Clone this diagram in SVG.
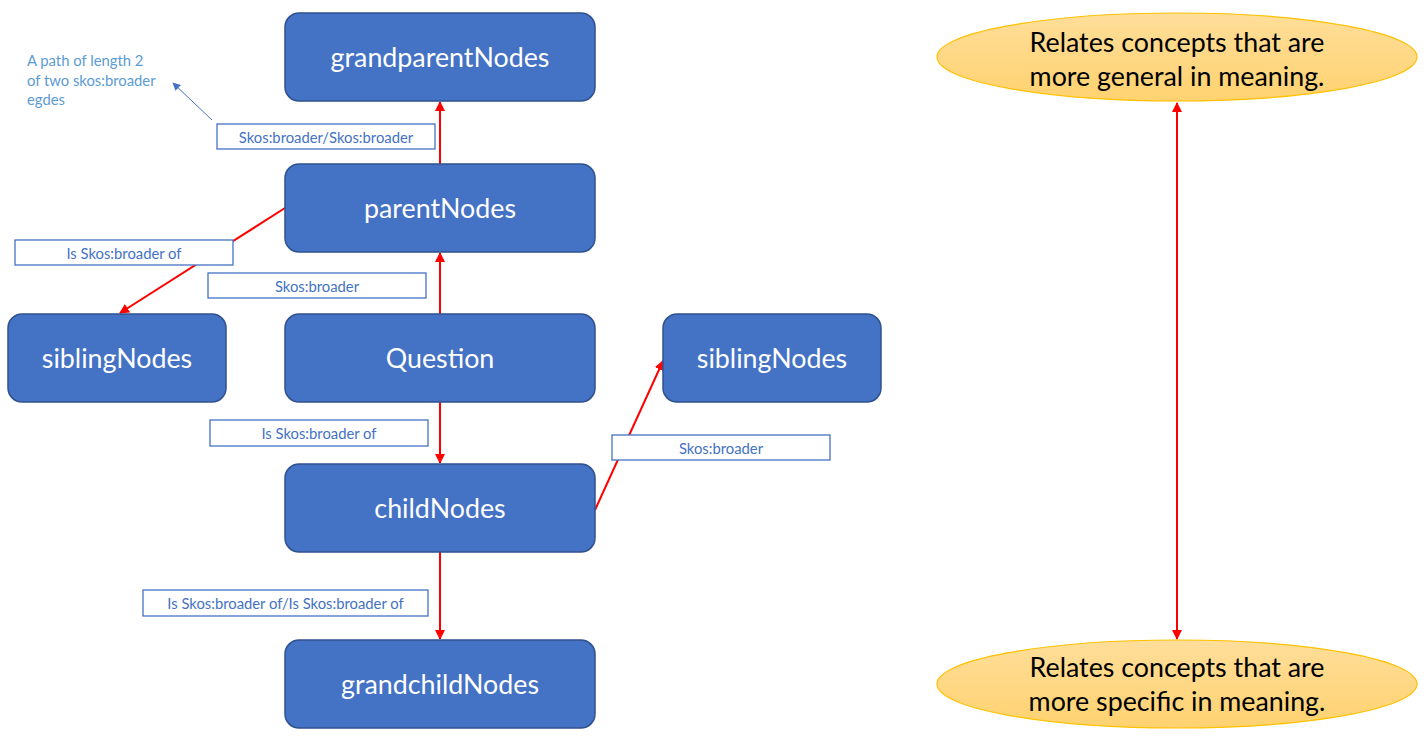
<svg xmlns="http://www.w3.org/2000/svg" width="1426" height="736" viewBox="0 0 1426 736">
<style>
.node rect{fill:#4472C4;stroke:#2F528F;stroke-width:1.5}
.node text{fill:#fff;font-family:Lato,"Open Sans",sans-serif;font-size:26.8px;text-anchor:middle;dominant-baseline:central}
.lbl rect{fill:#fff;stroke:#4472C4;stroke-width:1.3}
.lbl text{fill:#4472C4;font-family:Lato,"Open Sans",sans-serif;font-size:14.8px;text-anchor:middle;dominant-baseline:central}
.edge{stroke:#FF0000;stroke-width:2;fill:none}
.ell ellipse{fill:url(#og);stroke:#FFC000;stroke-width:1.2}
.ell text{fill:#000;font-family:Lato,"Open Sans",sans-serif;font-size:26.8px;text-anchor:middle;dominant-baseline:central}
.note{fill:#5B9BD5;font-family:Lato,"Open Sans",sans-serif;font-size:14.8px}
</style>
<defs>
<linearGradient id="og" x1="0" y1="0" x2="0" y2="1">
<stop offset="0" stop-color="#FFDE9A"/>
<stop offset="1" stop-color="#FFD270"/>
</linearGradient>
<marker id="ar" viewBox="0 0 10 10" refX="9" refY="5" markerWidth="5" markerHeight="5" orient="auto-start-reverse" markerUnits="strokeWidth">
<path d="M0,0 L10,5 L0,10 z" fill="#FF0000"/>
</marker>
<marker id="ab" viewBox="0 0 10 10" refX="9" refY="5" markerWidth="8" markerHeight="8" orient="auto" markerUnits="strokeWidth">
<path d="M0,0 L10,5 L0,10 z" fill="#4472C4"/>
</marker>
</defs>
<g id="connectors">
<line class="edge" x1="440" y1="164" x2="440" y2="102" marker-end="url(#ar)"/>
<line class="edge" x1="440" y1="314" x2="440" y2="253" marker-end="url(#ar)"/>
<line class="edge" x1="285" y1="208" x2="120" y2="313" marker-end="url(#ar)"/>
<line class="edge" x1="440" y1="402" x2="440" y2="463" marker-end="url(#ar)"/>
<line class="edge" x1="595" y1="510" x2="663" y2="361" marker-end="url(#ar)"/>
<line class="edge" x1="440" y1="552" x2="440" y2="639" marker-end="url(#ar)"/>
<line class="edge" x1="1177" y1="103" x2="1177" y2="639" marker-start="url(#ar)" marker-end="url(#ar)"/>
<line x1="212" y1="120" x2="173" y2="83" stroke="#4472C4" stroke-width="1" marker-end="url(#ab)"/>
</g>
<g id="grandparentNodes" class="node"><rect x="285" y="13" width="310" height="88" rx="14"/><text x="440" y="57">grandparentNodes</text></g>
<g id="parentNodes" class="node"><rect x="285" y="164" width="310" height="88" rx="14"/><text x="440" y="208">parentNodes</text></g>
<g id="siblingNodesLeft" class="node"><rect x="8" y="314" width="218" height="88" rx="14"/><text x="117" y="358">siblingNodes</text></g>
<g id="question" class="node"><rect x="285" y="314" width="310" height="88" rx="14"/><text x="440" y="358">Question</text></g>
<g id="siblingNodesRight" class="node"><rect x="663" y="314" width="218" height="88" rx="14"/><text x="772" y="358">siblingNodes</text></g>
<g id="childNodes" class="node"><rect x="285" y="464" width="310" height="88" rx="14"/><text x="440" y="508">childNodes</text></g>
<g id="grandchildNodes" class="node"><rect x="285" y="640" width="310" height="88" rx="14"/><text x="440" y="684">grandchildNodes</text></g>
<g id="label-broader-broader" class="lbl"><rect x="217" y="124" width="218" height="25"/><text x="326" y="136.5">Skos:broader/Skos:broader</text></g>
<g id="label-isbroader-left" class="lbl"><rect x="15" y="240" width="218" height="25"/><text x="124" y="252.5">Is Skos:broader of</text></g>
<g id="label-broader-mid" class="lbl"><rect x="208" y="273" width="218" height="25"/><text x="317" y="285.5">Skos:broader</text></g>
<g id="label-isbroader-child" class="lbl"><rect x="210" y="420" width="218" height="26"/><text x="319" y="433">Is Skos:broader of</text></g>
<g id="label-broader-right" class="lbl"><rect x="612" y="435" width="218" height="25"/><text x="721" y="447.5">Skos:broader</text></g>
<g id="label-isbroader-grandchild" class="lbl"><rect x="143" y="590" width="285" height="26"/><text x="285.5" y="603">Is Skos:broader of/Is Skos:broader of</text></g>
<g id="note">
<text class="note" x="27" y="66">A path of length 2</text>
<text class="note" x="27" y="86">of two skos:broader</text>
<text class="note" x="27" y="105">egdes</text>
</g>
<g id="general" class="ell"><ellipse cx="1177" cy="57" rx="240" ry="44"/><text x="1177" y="42">Relates concepts that are</text><text x="1177" y="76">more general in meaning.</text></g>
<g id="specific" class="ell"><ellipse cx="1177" cy="684" rx="240" ry="44"/><text x="1177" y="667">Relates concepts that are</text><text x="1177" y="701">more specific in meaning.</text></g>
</svg>
